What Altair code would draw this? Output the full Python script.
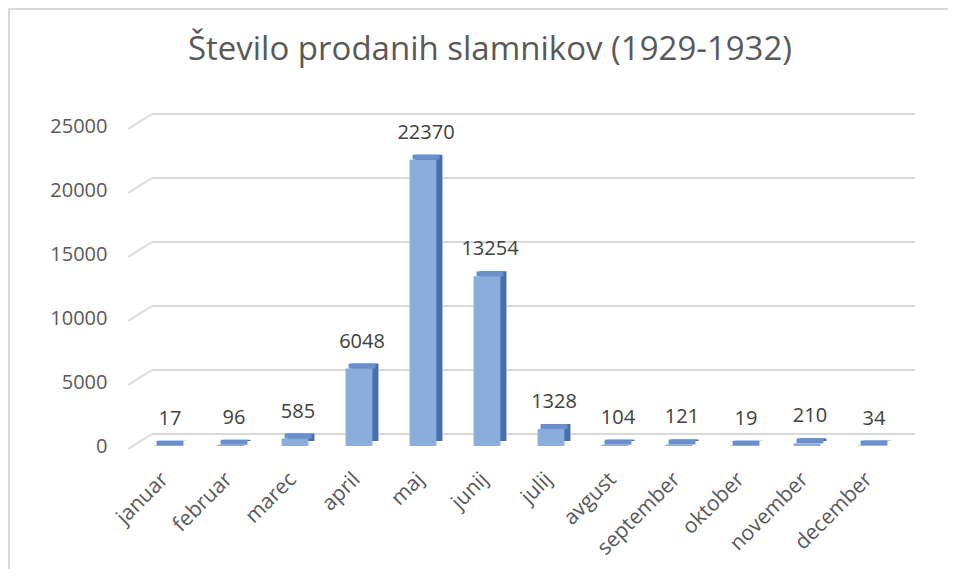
import altair as alt
import pandas as pd

months = ["januar", "februar", "marec", "april", "maj", "junij", "julij",
          "avgust", "september", "oktober", "november", "december"]
sold = [17, 96, 585, 6048, 22370, 13254, 1328, 104, 121, 19, 210, 34]
y_ticks = [0, 5000, 10000, 15000, 20000, 25000]
title_text = ["Število prodanih slamnikov (1929-1932)"]

df = pd.DataFrame({"mesec": months, "stevilo": sold})
grid_df = pd.DataFrame({"v": y_ticks})
title_df = pd.DataFrame({"t": title_text})

FONT = "Open Sans"
W, H = 768, 320

xenc = alt.X("mesec:N", sort=months,
             scale=alt.Scale(paddingInner=0.58, paddingOuter=0.29),
             axis=alt.Axis(title=None, labelAngle=-45, labelAlign="right",
                           labelBaseline="middle", domain=False, ticks=False,
                           labelPadding=30, labelOffset=-2, labelFontSize=21,
                           labelFont=FONT, labelColor="#595959"))
yscale = alt.Scale(domain=[0, 25000])
yenc = alt.Y("stevilo:Q", scale=yscale,
             axis=alt.Axis(title=None, values=y_ticks, format="d", grid=False,
                           domain=False, ticks=False, labelPadding=28,
                           labelFontSize=20, labelFont=FONT, labelColor="#595959"))

border = alt.Chart(grid_df).mark_rect(
    fill="transparent", stroke="#d9d9d9", strokeWidth=2
).encode(x=alt.value(-126), y=alt.value(-117), x2=alt.value(900), y2=alt.value(600))

title = alt.Chart(title_df).mark_text(
    font=FONT, fontSize=33, color="#595959", align="center", baseline="middle"
).encode(x=alt.value(355), y=alt.value(-76), text="t:N")

grid = alt.Chart(grid_df).mark_rule(
    color="#d9d9d9", strokeWidth=2, yOffset=-12
).encode(y=alt.Y("v:Q", scale=yscale), x=alt.value(17), x2=alt.value(780))

stub = alt.Chart(grid_df).mark_rule(
    color="#d9d9d9", strokeWidth=2, yOffset=3, y2Offset=-12
).encode(y=alt.Y("v:Q", scale=yscale), y2="v:Q",
         x=alt.value(-7), x2=alt.value(17))

side = alt.Chart(df).mark_bar(
    color="#4a6fae", xOffset=6, yOffset=-5, x2Offset=6, y2Offset=-5
).encode(x=xenc, y=yenc)

top = alt.Chart(df).mark_bar(
    color="#6a8fcc", xOffset=3, x2Offset=6, yOffset=-5, y2Offset=0
).encode(x=xenc, y=yenc, y2="stevilo:Q")

front = alt.Chart(df).mark_bar(color="#8badde").encode(x=xenc, y=yenc)

labels = alt.Chart(df).mark_text(
    dy=-27, dx=3, fontSize=20, font=FONT, color="#404040"
).encode(x=xenc, y=alt.Y("stevilo:Q", scale=yscale), text="stevilo:Q")

chart = alt.layer(border, title, grid, stub, side, top, front, labels).properties(
    width=W, height=H,
    autosize=alt.AutoSizeParams(type="none"),
    padding={"left": 127, "top": 118, "right": 45, "bottom": 123},
).configure(background="white").configure_view(strokeWidth=0)

chart.save("out.html", embed_options={"renderer": "svg", "actions": False})
